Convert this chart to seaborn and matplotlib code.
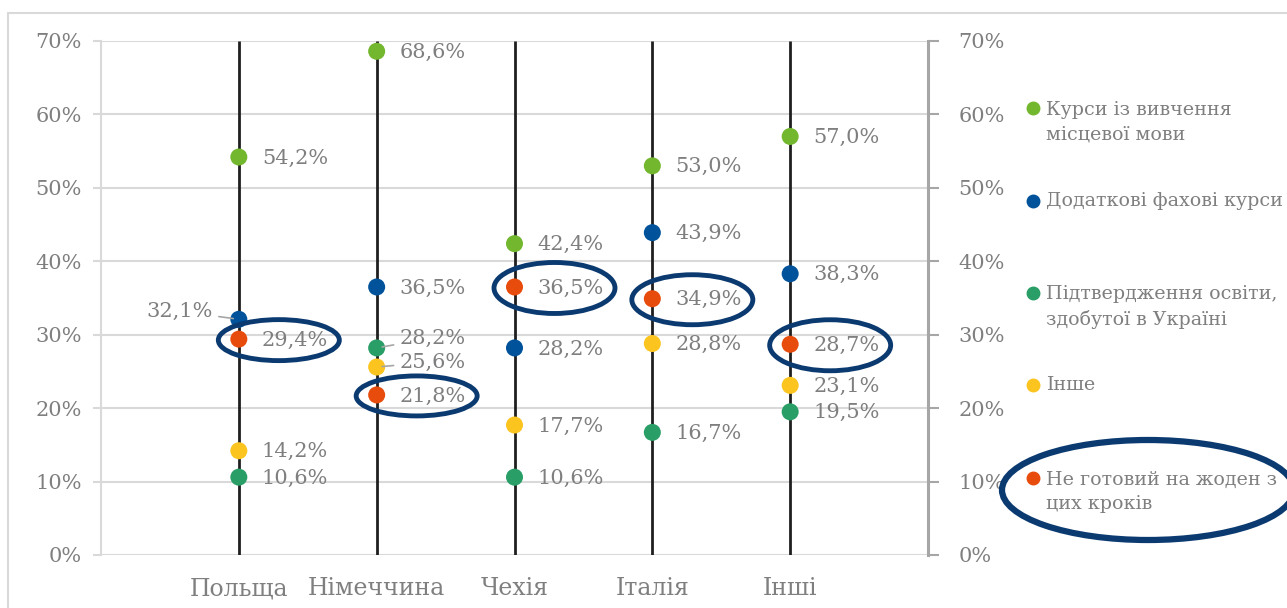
import numpy as np
import pandas as pd
import matplotlib
matplotlib.use("Agg")
import matplotlib.pyplot as plt
from matplotlib.patches import Ellipse, Rectangle
from matplotlib.lines import Line2D
import seaborn as sns

# Countries and the share of respondents ready for each step (%)
categories = ["Польща", "Німеччина", "Чехія", "Італія", "Інші"]
series_names = [
    "Курси із вивчення\nмісцевої мови",
    "Додаткові фахові курси",
    "Підтвердження освіти,\nздобутої в Україні",
    "Інше",
    "Не готовий на жоден з\nцих кроків",
]
language_courses = [54.2, 68.6, 42.4, 53.0, 57.0]
professional_courses = [32.1, 36.5, 28.2, 43.9, 38.3]
diploma_recognition = [10.6, 28.2, 10.6, 16.7, 19.5]
other_steps = [14.2, 25.6, 17.7, 28.8, 23.1]
not_ready = [29.4, 21.8, 36.5, 34.9, 28.7]

values = [language_courses, professional_courses, diploma_recognition,
          other_steps, not_ready]
colors = ["#72B72E", "#00529B", "#2A9E67", "#FBC41F", "#E84C0C"]

rows = []
for name, vals in zip(series_names, values):
    for i, (cat, v) in enumerate(zip(categories, vals)):
        rows.append({"country": cat, "pos": i + 1, "series": name, "value": v})
df = pd.DataFrame(rows)

sns.set_theme(style="white")
plt.rcParams["font.family"] = ["DejaVu Serif"]
text_color = "#7F7F7F"
grid_color = "#D9D9D9"
navy = "#0B3A70"
fs = 15

fig = plt.figure(figsize=(12.87, 6.08), dpi=100)
ax = fig.add_axes([101 / 1287, 1 - 555 / 608, 827 / 1287, 514 / 608])

# outer chart frame
fig.patches.append(Rectangle((8 / 1287, -0.05), 1.2, 1 - 13 / 608 + 0.05,
                             transform=fig.transFigure, fill=False,
                             edgecolor=grid_color, linewidth=1.5))

ax.set_xlim(0, len(categories) + 1)
ax.set_ylim(0, 70)
yticks = np.arange(0, 71, 10)
ax.set_yticks(yticks)
ax.set_yticklabels([f"{t}%" for t in yticks])
ax.set_xticks(range(1, len(categories) + 1))
ax.set_xticklabels(categories)
ax.yaxis.grid(True, color=grid_color, linewidth=1.5)
ax.set_axisbelow(True)
for s in ["top", "right", "bottom"]:
    ax.spines[s].set_visible(False)
ax.spines["left"].set_color(grid_color)
ax.spines["left"].set_linewidth(1.5)
ax.tick_params(axis="y", length=6, width=1.5, color=grid_color,
               labelsize=fs, labelcolor=text_color, pad=8)
ax.tick_params(axis="x", length=0, labelsize=17, labelcolor=text_color, pad=16)
ax.set_xlabel("")
ax.set_ylabel("")

# vertical country lines
ax.vlines(range(1, len(categories) + 1), 0, 70, color="#1F1F1F",
          linewidth=2.0, zorder=2)

sns.scatterplot(data=df, x="pos", y="value", hue="series",
                palette=dict(zip(series_names, colors)), s=150,
                edgecolor="none", legend=False, ax=ax, zorder=3)
ax.set_xlabel("")
ax.set_ylabel("")

# value labels; a few are nudged to avoid overlaps
nudges = {
    (1, 0): (-26, 8, "right"),
    (2, 1): (23, 10, "left"),
    (3, 1): (23, 5, "left"),
}
leaders = {(1, 0), (2, 1), (3, 1)}
for si, vals in enumerate(values):
    for ci, v in enumerate(vals):
        dx, dy, ha = nudges.get((si, ci), (23, -1, "left"))
        label = f"{v:.1f}%".replace(".", ",")
        ax.annotate(label, xy=(ci + 1, v), xytext=(dx, dy),
                    textcoords="offset pixels", ha=ha, va="center",
                    fontsize=fs, color=text_color, zorder=4,
                    arrowprops=dict(arrowstyle="-", color="#A6A6A6", lw=1.2,
                                    shrinkA=2, shrinkB=4)
                    if (si, ci) in leaders else None)

# highlight rings around the "not ready" answers
ring_heights_px = [41, 40, 51, 50, 51]
px_x = 827 / (len(categories) + 1)
px_y = 514 / 70
for ci, v in enumerate(not_ready):
    ax.add_patch(Ellipse((ci + 1 + 40 / px_x, v - 1 / px_y),
                         width=121 / px_x, height=ring_heights_px[ci] / px_y,
                         fill=False, edgecolor=navy, linewidth=3.5,
                         zorder=5, clip_on=False))

# secondary axis on the right
ax2 = ax.twinx()
ax2.set_ylim(ax.get_ylim())
ax2.set_yticks(yticks)
ax2.set_yticklabels([f"{t}%" for t in yticks])
for s in ["top", "left", "bottom"]:
    ax2.spines[s].set_visible(False)
ax2.spines["right"].set_color("#A6A6A6")
ax2.spines["right"].set_linewidth(2.2)
ax2.tick_params(axis="y", length=8, width=1.5, color="#A6A6A6",
                labelsize=fs, labelcolor=text_color, pad=14)
ax2.grid(False)

# legend
legend_y = [122, 201, 307, 385, 492]
for name, col, ypx in zip(series_names, colors, legend_y):
    yf = 1 - ypx / 608
    n_lines = name.count("\n") + 1
    mark_y = yf + (n_lines - 1) * 14.5 / 608
    fig.add_artist(Line2D([1033 / 1287], [mark_y], marker="o", markersize=9,
                          color=col, linestyle="none",
                          transform=fig.transFigure))
    fig.text(1046 / 1287, yf, name, ha="left", va="center", fontsize=13.7,
             color=text_color, linespacing=1.45)

fig.add_artist(Ellipse((1148 / 1287, 1 - 490 / 608), 292 / 1287, 100 / 608,
                       transform=fig.transFigure, fill=False,
                       edgecolor=navy, linewidth=4.5))

fig.savefig("out.png", dpi=100)
